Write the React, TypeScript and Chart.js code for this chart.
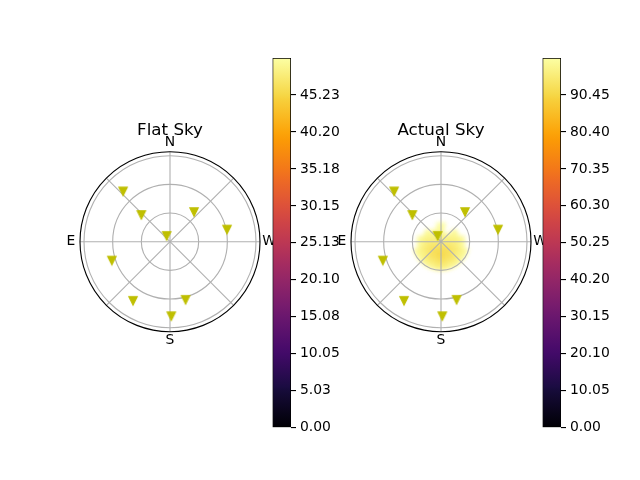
import { useEffect, useRef } from "react"
import { Chart, registerables } from "chart.js"

Chart.register(...registerables)

// star positions: azimuth (deg, N through E) and zenith angle (deg)
const starAzimuth = [43, 47, 321, 282, 30, 108, 148, 195, 181]
const starZenith = [72, 41, 40, 61, 7, 64, 73, 63, 78]

const ringTicks = [30, 60, 90]
const spokeAngles = [0, 45, 90, 135, 180, 225, 270, 315]
const compassLabels = ["N", "E", "S", "W"]
const compassAngles = [0, 90, 180, 270]
const zenithMax = 94.2

// brightness of the actual sky, sectors of 30 deg x rings of 5 deg
const heatAzimuth = [0, 30, 60, 90, 120, 150, 180, 210, 240, 270, 300, 330]
const heatZenithEdges = [0, 5, 10, 15, 20, 25, 30]
const heatValues: (number | null)[][] = [
  [97, 97, 97, 96, 95, 94, 94, 94, 95, 96, 97, 97],
  [98, 98, 97, 96, 94, 93, 92, 93, 94, 96, 97, 98],
  [99, 99, 98, 96, 94, 92, 91, 92, 94, 96, 98, null],
  [100, null, 99, 97, 95, 93, 92, 93, 95, 97, 99, null],
  [null, null, null, 99, 97, 95, 94, 95, 97, 99, null, null],
  [null, null, null, null, 99, 98, 97, 98, 99, null, null, null],
]

const flatMax = 50.26
const flatTicks = [0, 5.03, 10.05, 15.08, 20.1, 25.13, 30.15, 35.18, 40.2, 45.23]
const actualMax = 100.51
const actualTicks = [0, 10.05, 20.1, 30.15, 40.2, 50.25, 60.3, 70.35, 80.4, 90.45]

const infernoStops: [number, string][] = [
  [0, "#000004"], [0.1, "#160b39"], [0.111, "#1b0c42"], [0.2, "#420a68"],
  [0.222, "#4b0c6b"], [0.3, "#6a176e"], [0.333, "#781c6d"], [0.4, "#932667"],
  [0.444, "#a52c60"], [0.5, "#bc3754"], [0.556, "#cf4446"], [0.6, "#dd513a"],
  [0.667, "#ed6925"], [0.7, "#f37819"], [0.778, "#fb9a06"], [0.8, "#fca50a"],
  [0.889, "#f7d03c"], [0.9, "#f6d746"], [1, "#fcffa4"],
]

const FONT = "'DejaVu Sans', sans-serif"
const GRID = "#b0b0b0"
const LW = 0.8 * 100 / 72

function hexRgb(h: string) {
  return [1, 3, 5].map((i) => parseInt(h.slice(i, i + 2), 16))
}

function inferno(t: number) {
  t = Math.max(0, Math.min(1, t))
  for (let i = 1; i < infernoStops.length; i++) {
    const [p1, c1] = infernoStops[i]
    if (t <= p1) {
      const [p0, c0] = infernoStops[i - 1]
      const f = (t - p0) / (p1 - p0)
      const a = hexRgb(c0), b = hexRgb(c1)
      const m = a.map((v, k) => Math.round(v + (b[k] - v) * f))
      return `rgb(${m[0]},${m[1]},${m[2]})`
    }
  }
  return infernoStops[infernoStops.length - 1][1]
}

function triangleMarker() {
  const c = document.createElement("canvas")
  c.width = 12
  c.height = 12
  const g = c.getContext("2d")!
  const h = 4.17
  g.beginPath()
  g.moveTo(6 - h, 6 - h)
  g.lineTo(6 + h, 6 - h)
  g.lineTo(6, 6 + h)
  g.closePath()
  g.fillStyle = "#bfbf00"
  g.strokeStyle = "#bfbf00"
  g.lineWidth = 1.2
  g.fill()
  g.stroke()
  return c
}

// azimuth from N toward E (left on screen)
const phi = (az: number) => -Math.PI / 2 - (az * Math.PI) / 180

const polarSky = {
  id: "polarSky",
  beforeDatasetsDraw(chart: any, _args: any, opts: any) {
    const { ctx } = chart
    const xs = chart.scales.x
    const ys = chart.scales.y
    const cx = xs.getPixelForValue(0)
    const cy = ys.getPixelForValue(0)
    const k = xs.getPixelForValue(1) - cx

    if (opts.heat) {
      const dpr = chart.currentDevicePixelRatio || 1
      const off = document.createElement("canvas")
      off.width = chart.width * dpr
      off.height = chart.height * dpr
      const o = off.getContext("2d")!
      o.scale(dpr, dpr)
      const half = (heatAzimuth[1] - heatAzimuth[0]) / 2
      heatValues.forEach((row, i) => {
        row.forEach((v, j) => {
          if (v == null) return
          const r0 = heatZenithEdges[i] * k
          const r1 = heatZenithEdges[i + 1] * k
          const a0 = phi(heatAzimuth[j] - half)
          const a1 = phi(heatAzimuth[j] + half)
          o.beginPath()
          o.arc(cx, cy, r1, a0, a1, true)
          o.arc(cx, cy, r0, a1, a0, false)
          o.closePath()
          o.fillStyle = inferno(v / actualMax)
          o.strokeStyle = o.fillStyle
          o.lineWidth = 0.6
          o.fill()
          o.stroke()
        })
      })
      ctx.save()
      ctx.filter = "blur(2px)"
      ctx.drawImage(off, 0, 0, chart.width, chart.height)
      ctx.restore()
    }

    ctx.save()
    ctx.strokeStyle = GRID
    ctx.lineWidth = LW
    ringTicks.forEach((r) => {
      ctx.beginPath()
      ctx.arc(cx, cy, r * k, 0, Math.PI * 2)
      ctx.stroke()
    })
    spokeAngles.forEach((a) => {
      ctx.beginPath()
      ctx.moveTo(cx, cy)
      ctx.lineTo(cx + Math.cos(phi(a)) * zenithMax * k, cy + Math.sin(phi(a)) * zenithMax * k)
      ctx.stroke()
    })
    ctx.strokeStyle = "#000"
    ctx.beginPath()
    ctx.arc(cx, cy, zenithMax * k, 0, Math.PI * 2)
    ctx.stroke()

    ctx.fillStyle = "#000"
    ctx.font = `13.9px ${FONT}`
    ctx.textAlign = "center"
    ctx.textBaseline = "middle"
    const lr = zenithMax * k + 9
    compassLabels.forEach((t, i) => {
      const a = phi(compassAngles[i])
      ctx.fillText(t, cx + Math.cos(a) * lr, cy + Math.sin(a) * lr)
    })
    ctx.font = `16.7px ${FONT}`
    ctx.textBaseline = "alphabetic"
    ctx.fillText(opts.title, cx, cy - zenithMax * k - 16.5)
    ctx.restore()
  },
}

function SkyPlot({ title, heat, left }: { title: string; heat: boolean; left: number }) {
  const ref = useRef<HTMLCanvasElement>(null)
  useEffect(() => {
    if (!ref.current) return
    const chart = new Chart(ref.current, {
      type: "scatter",
      data: {
        datasets: [
          {
            data: starAzimuth.map((az, i) => ({
              x: -starZenith[i] * Math.sin((az * Math.PI) / 180),
              y: starZenith[i] * Math.cos((az * Math.PI) / 180),
            })),
            pointStyle: triangleMarker(),
            pointRadius: 5,
          },
        ],
      },
      options: {
        responsive: false,
        animation: false,
        layout: { padding: { left: 40, right: 20, top: 51.7, bottom: 28.3 } },
        plugins: {
          legend: { display: false },
          tooltip: { enabled: false },
          polarSky: { title, heat },
        } as any,
        scales: {
          x: { display: false, min: -zenithMax, max: zenithMax },
          y: { display: false, min: -zenithMax, max: zenithMax },
        },
      },
      plugins: [polarSky],
    })
    return () => chart.destroy()
  }, [title, heat])
  return (
    <canvas
      ref={ref}
      width={240}
      height={260}
      style={{ position: "absolute", left, top: 100 }}
    />
  )
}

function ColorBar({ max, ticks, left }: { max: number; ticks: number[]; left: number }) {
  const ref = useRef<HTMLCanvasElement>(null)
  useEffect(() => {
    if (!ref.current) return
    const chart = new Chart(ref.current, {
      type: "bar",
      data: {
        labels: [""],
        datasets: [
          {
            data: [[0, max]] as any,
            backgroundColor: (c: any) => {
              const area = c.chart.chartArea
              if (!area) return "#000"
              const g = c.chart.ctx.createLinearGradient(0, area.bottom, 0, area.top)
              infernoStops.forEach(([p, col]) => g.addColorStop(p, col))
              return g
            },
            borderColor: "#000",
            borderWidth: LW,
            borderSkipped: false,
            barPercentage: 1,
            categoryPercentage: 1,
          },
        ],
      },
      options: {
        responsive: false,
        animation: false,
        layout: { padding: { left: 10.5, right: 11, top: 18, bottom: 12 } },
        plugins: { legend: { display: false }, tooltip: { enabled: false } },
        scales: {
          x: { display: false },
          y: {
            position: "right",
            min: 0,
            max,
            afterBuildTicks: (s: any) => {
              s.ticks = ticks.map((v) => ({ value: v }))
            },
            afterFit: (s: any) => {
              s.width = 50
            },
            ticks: {
              autoSkip: false,
              padding: 4,
              color: "#000",
              font: { family: FONT, size: 13.9 },
              callback: (v: any) => Number(v).toFixed(2),
            },
            grid: { drawOnChartArea: false, drawTicks: true, tickLength: 5, color: "#000", lineWidth: LW },
            border: { display: false },
          },
        },
      },
    })
    return () => chart.destroy()
  }, [max, ticks])
  return (
    <canvas
      ref={ref}
      width={90}
      height={400}
      style={{ position: "absolute", left, top: 40 }}
    />
  )
}

export default function App() {
  return (
    <div style={{ position: "absolute", left: 0, top: 0, width: 640, height: 480, background: "#fff" }}>
      <SkyPlot title="Flat Sky" heat={false} left={40} />
      <ColorBar max={flatMax} ticks={flatTicks} left={262} />
      <SkyPlot title="Actual Sky" heat={true} left={311} />
      <ColorBar max={actualMax} ticks={actualTicks} left={532} />
    </div>
  )
}
